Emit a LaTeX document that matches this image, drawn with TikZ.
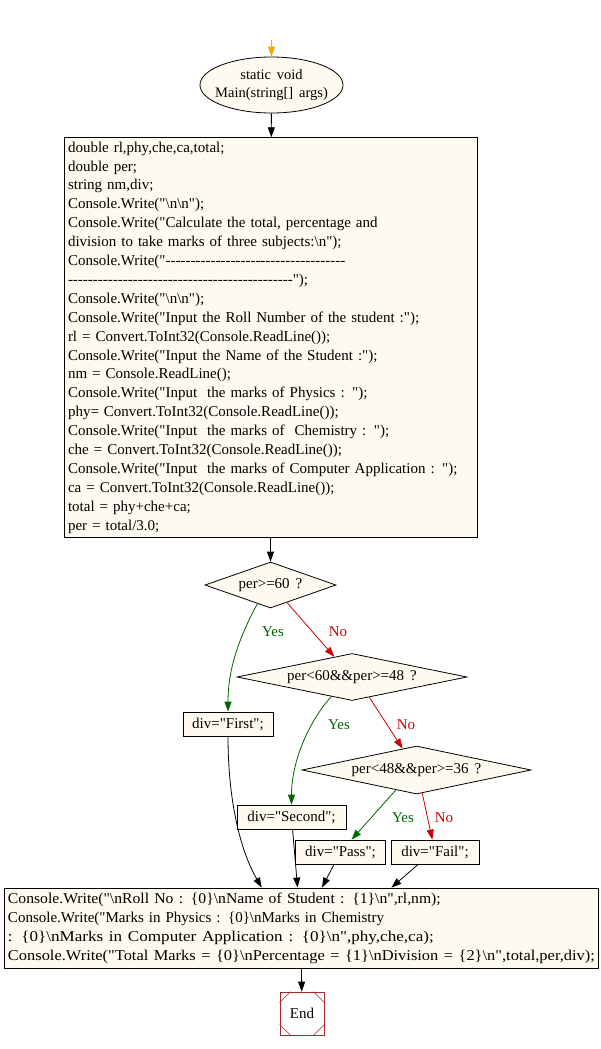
\documentclass[tikz,border=0pt]{standalone}
\usepackage{fontspec}
\newfontfamily\codefont{Liberation Serif}[WordSpace=1.6]
\usetikzlibrary{shapes.geometric,arrows.meta,calc}
\definecolor{nodefill}{HTML}{FFFAF0}
\definecolor{yesgreen}{HTML}{006400}
\definecolor{nored}{HTML}{CC0000}
\definecolor{startorange}{HTML}{FFA500}
\definecolor{endbrown}{HTML}{A52A2A}
\newcommand\bsl{\textbackslash}
\newcommand\hx[2]{\scalebox{#1}[1]{#2}}
\begin{document}
\begin{tikzpicture}[x=1pt,y=-1pt,
  every node/.style={font=\codefont\fontsize{15}{18.9}\selectfont},
  tip/.style={-{Triangle[length=10pt,width=7pt]}},
  flow/.style={draw=black,line width=0.8pt,tip},
  yesflow/.style={draw=yesgreen,line width=0.8pt,tip},
  noflow/.style={draw=nored,line width=0.8pt,tip},
  procbox/.style={draw=black,line width=0.8pt,fill=nodefill,rectangle,inner sep=4pt},
  decision/.style={draw=black,line width=0.8pt,fill=nodefill,diamond,inner sep=0pt},
  yeslabel/.style={text=yesgreen,inner sep=0pt},
  nolabel/.style={text=nored,inner sep=0pt}
]
\useasboundingbox (0,0) rectangle (601,1049);

\coordinate (top) at (271.5,40);
\node[ellipse,draw=black,line width=0.8pt,fill=nodefill,minimum width=143pt,minimum height=56pt,inner sep=0pt,align=center,font=\codefont\fontsize{14.5}{18}\selectfont] (start) at (271.5,85) {\makebox[0pt]{static void}\\\makebox[0pt]{Main(string[] args)}};

\node[procbox,minimum width=413pt,minimum height=399pt,text width=405pt,align=left] (init) at (270.5,337.5) {double rl,phy,che,ca,total;\\
double per;\\
string nm,div;\\
Console.Write("\bsl n\bsl n");\\
Console.Write("Calculate the total, percentage and\\
division to take marks of three subjects:\bsl n");\\
Console.Write("------------------------------------\\
---------------------------------------------");\\
Console.Write("\bsl n\bsl n");\\
Console.Write("Input the Roll Number of the student :");\\
rl = Convert.ToInt32(Console.ReadLine());\\
Console.Write("Input the Name of the Student :");\\
nm = Console.ReadLine();\\
Console.Write("Input\ \ the marks of Physics : ");\\
phy= Convert.ToInt32(Console.ReadLine());\\
Console.Write("Input\ \ the marks of\ \ Chemistry : ");\\
che = Convert.ToInt32(Console.ReadLine());\\
Console.Write("Input\ \ the marks of Computer Application : ");\\
ca = Convert.ToInt32(Console.ReadLine());\\
total = phy+che+ca;\\
per = total/3.0;};

\node[decision,minimum width=131pt,minimum height=46pt,aspect=2.85] (d1) at (270.5,585) {per>=60 ?};
\node[decision,minimum width=230pt,minimum height=47pt,aspect=4.9] (d2) at (352,677) {per<60\&\&per>=48 ?};
\node[decision,minimum width=229pt,minimum height=48pt,aspect=4.77] (d3) at (416.5,770) {per<48\&\&per>=36 ?};

\node[procbox,minimum width=90pt,minimum height=24pt,inner sep=0pt] (first) at (228,724) {div="First";};
\node[procbox,minimum width=109pt,minimum height=24pt,inner sep=0pt] (second) at (291.5,817) {div="Second";};
\node[procbox,minimum width=90pt,minimum height=24pt,inner sep=0pt] (pass) at (340.5,852) {div="Pass";};
\node[procbox,minimum width=88pt,minimum height=24pt,inner sep=0pt] (fail) at (435,852) {div="Fail";};

\node[procbox,minimum width=594pt,minimum height=80pt,text width=586pt,align=left,inner xsep=4pt,inner ysep=0pt] (out) at (301,928) {\hx{1.045}{Console.Write("\bsl nRoll No : \{0\}\bsl nName of Student : \{1\}\bsl n",rl,nm);}\\
Console.Write("Marks in Physics : \{0\}\bsl nMarks in Chemistry\\
\hx{1.14}{: \{0\}\bsl nMarks in Computer Application : \{0\}\bsl n",phy,che,ca);}\\
\hx{1.095}{Console.Write("Total Marks = \{0\}\bsl nPercentage = \{1\}\bsl nDivision = \{2\}\bsl n",total,per,div);}};

\node[draw=endbrown,line width=0.8pt,fill=white,rectangle,minimum width=44pt,minimum height=43pt,inner sep=0pt] (end) at (302,1013.5) {End};
\draw[endbrown,line width=0.6pt]
  ($(end.north west)+(0,11)$) -- ($(end.north west)+(11,0)$)
  ($(end.north east)+(0,11)$) -- ($(end.north east)+(-11,0)$)
  ($(end.south west)+(0,-11)$) -- ($(end.south west)+(11,0)$)
  ($(end.south east)+(0,-11)$) -- ($(end.south east)+(-11,0)$);

\draw[flow,draw=startorange] (top) -- (start);
\draw[flow] (start) -- (init);
\draw[flow] (init) -- (d1);

\draw[yesflow] ($(d1.south)!0.2!(d1.west)$) .. controls (238,640) and (228,670) .. (first.north);
\draw[noflow] ($(d1.south)!0.25!(d1.east)$) -- (d2);
\draw[yesflow] ($(d2.south)!0.18!(d2.west)$) .. controls (310,720) and (291.5,760) .. (second.north);
\draw[noflow] ($(d2.south)!0.15!(d2.east)$) -- (d3);
\draw[yesflow] ($(d3.south)!0.18!(d3.west)$) -- (pass);
\draw[noflow] ($(d3.south)!0.05!(d3.east)$) -- (fail);

\draw[flow] (first.south) .. controls (228,800) and (240,850) .. ($(out.north west)!0.434!(out.north east)$);
\draw[flow] (second) -- (out);
\draw[flow] (pass) -- (out);
\draw[flow] ($(fail.south west)!0.31!(fail.south east)$) -- ($(out.north west)!0.652!(out.north east)$);
\draw[flow] (out) -- (end);

\node[yeslabel] (y1) at (273,632) {Yes};
\node[nolabel] (n1) at (338,632) {No};
\node[yeslabel] (y2) at (339,725) {Yes};
\node[nolabel] (n2) at (406,725) {No};
\node[yeslabel] (y3) at (403,818) {Yes};
\node[nolabel] (n3) at (444,818) {No};
\end{tikzpicture}
\end{document}
